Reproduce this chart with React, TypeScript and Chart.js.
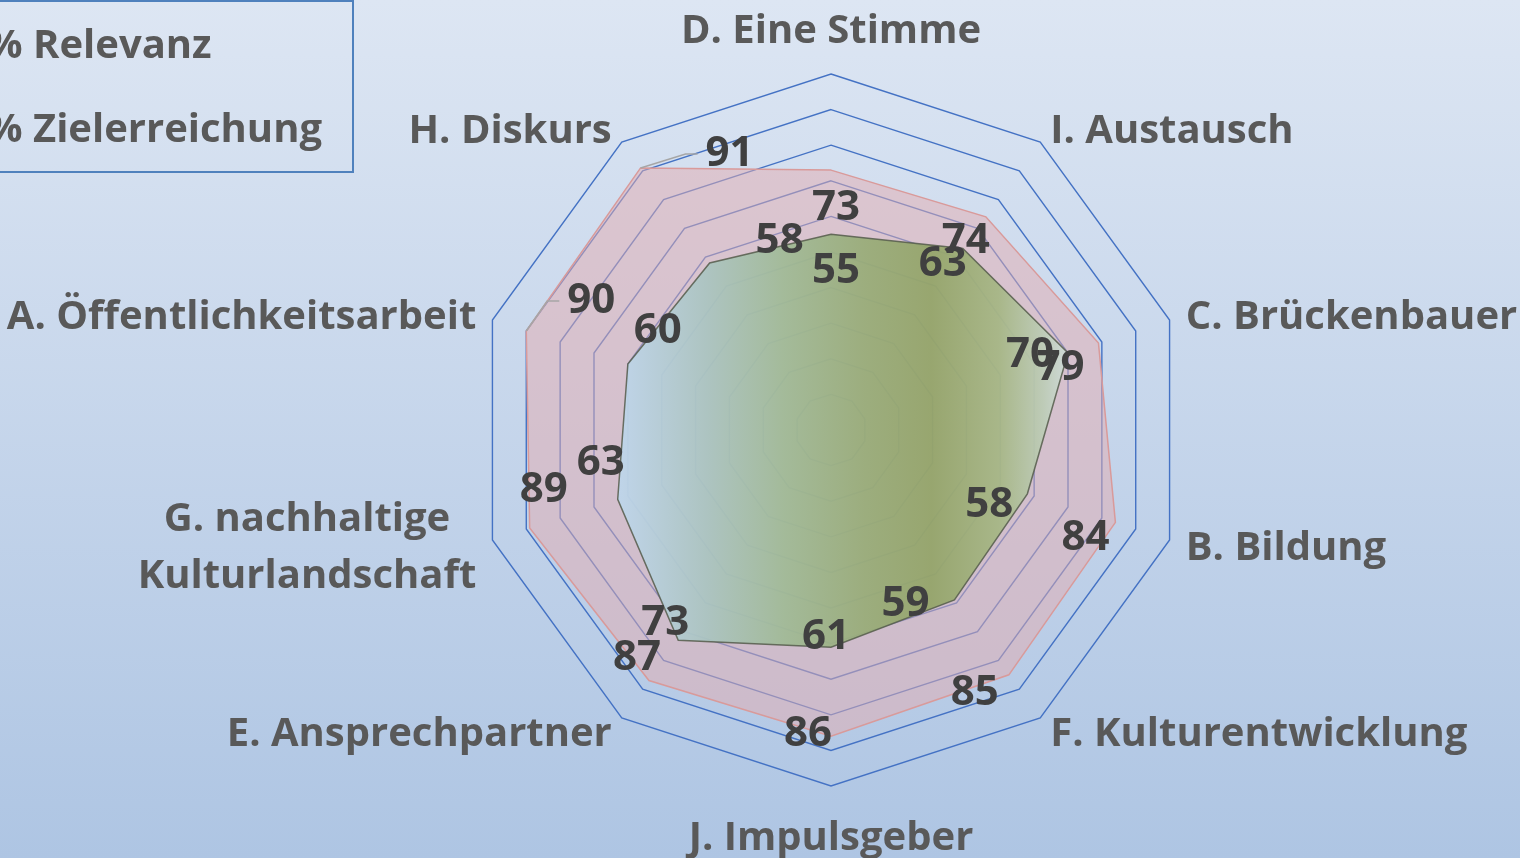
import React, { useEffect, useRef } from "react";
import { Chart, registerables } from "chart.js";

Chart.register(...registerables);

// ---------- data ----------
const categories: (string | string[])[] = [
  "D. Eine Stimme",
  "I. Austausch",
  "C. Brückenbauer",
  "B. Bildung",
  "F. Kulturentwicklung",
  "J. Impulsgeber",
  "E. Ansprechpartner",
  ["G. nachhaltige", "Kulturlandschaft"],
  "A. Öffentlichkeitsarbeit",
  "H. Diskurs",
];
const seriesNames = ["% Relevanz", "% Zielerreichung"];
const relevanz = [73, 74, 79, 84, 85, 86, 87, 89, 90, 91];
const zielerreichung = [55, 63, 70, 58, 59, 61, 73, 63, 60, 58];
const scaleMin = 0;
const scaleMax = 100;
const scaleStep = 10;

// ---------- label placement (style, not data) ----------
const relevanzNudge: [number, number][] = [
  [5, 35], [-20, 21], [-38, 22], [-30, 13], [-34, 15],
  [-23, -5], [-12, -26], [14, -41], [65, -33], [89, -17],
];
const zielNudge: [number, number][] = [
  [5, 34], [-20, 12], [-38, -1], [-38, 8], [-49, 1],
  [-5, -13], [-13, -20], [-17, -39], [30, -36], [70, -25],
];
const relevanzLeader = [false, false, false, false, false, false, false, false, true, true];

const FONT = "'Open Sans', Lato, sans-serif";
const AXIS_COLOR = "#595959";
const VALUE_COLOR = "#404040";

const backgroundPlugin = {
  id: "bg",
  beforeDraw(chart: any) {
    const { ctx, width, height } = chart;
    const g = ctx.createLinearGradient(0, 0, 0, height);
    g.addColorStop(0, "#dde6f3");
    g.addColorStop(1, "#aec5e3");
    ctx.save();
    ctx.fillStyle = g;
    ctx.fillRect(0, 0, width, height);
    ctx.restore();
  },
};

const labelsPlugin = {
  id: "customLabels",
  afterDraw(chart: any) {
    const { ctx } = chart;
    const scale = chart.scales.r;
    ctx.save();

    // point (category) labels
    ctx.font = `bold 40px ${FONT}`;
    ctx.fillStyle = AXIS_COLOR;
    categories.forEach((label, i) => {
      const isVertical = i === 0 || i === 5;
      const pad = isVertical ? (i === 0 ? 45 : 50) : 17;
      const p = scale.getPointPosition(i, scale.drawingArea + pad);
      const lines = Array.isArray(label) ? label : [label];
      const lh = 57;
      const widths = lines.map((l) => ctx.measureText(l).width);
      const maxW = Math.max(...widths);
      const dx = p.x - scale.xCenter;
      let cx: number;
      if (Math.abs(dx) < 2) cx = p.x;
      else if (dx > 0) cx = p.x + maxW / 2;
      else cx = p.x - maxW / 2;
      ctx.textAlign = "center";
      ctx.textBaseline = "middle";
      lines.forEach((l, k) => {
        const y = p.y + 3 + (k - (lines.length - 1) / 2) * lh;
        ctx.fillText(l, cx, y);
      });
    });

    // value labels
    ctx.font = `bold 42px ${FONT}`;
    ctx.fillStyle = VALUE_COLOR;
    ctx.textAlign = "center";
    ctx.textBaseline = "middle";
    const drawSeries = (vals: number[], nudge: [number, number][], leader?: boolean[]) => {
      vals.forEach((v, i) => {
        const p = scale.getPointPosition(i, scale.getDistanceFromCenterForValue(v));
        const lx = p.x + nudge[i][0];
        const ly = p.y + nudge[i][1];
        if (leader && leader[i]) {
          const w = ctx.measureText(String(v)).width;
          ctx.save();
          ctx.strokeStyle = "#a6a6a6";
          ctx.lineWidth = 1.5;
          ctx.beginPath();
          ctx.moveTo(p.x, p.y);
          ctx.lineTo(lx - w / 2 - 20, ly + 3);
          ctx.lineTo(lx - w / 2 - 8, ly + 3);
          ctx.stroke();
          ctx.restore();
        }
        ctx.fillText(String(v), lx, ly + 3);
      });
    };
    drawSeries(relevanz, relevanzNudge, relevanzLeader);
    drawSeries(zielerreichung, zielNudge);

    // legend (partly cut off at the left edge)
    ctx.strokeStyle = "#4f81bd";
    ctx.lineWidth = 2;
    ctx.strokeRect(-2, 1, 355, 171);
    ctx.font = `bold 40px ${FONT}`;
    ctx.fillStyle = AXIS_COLOR;
    ctx.textAlign = "left";
    ctx.textBaseline = "alphabetic";
    const legendY = [58, 142];
    seriesNames.forEach((name, k) => {
      const pre = ctx.measureText("% ").width;
      ctx.fillText(name, 33 - pre, legendY[k]);
    });

    ctx.restore();
  },
};

export default function App() {
  const ref = useRef<HTMLCanvasElement | null>(null);

  useEffect(() => {
    document.body.style.margin = "0";
    const canvas = ref.current!;
    const chart = new Chart(canvas, {
      type: "radar",
      data: {
        labels: categories as any,
        datasets: [
          {
            label: seriesNames[0],
            data: relevanz,
            order: 1,
            backgroundColor: "rgba(228,172,176,0.5)",
            borderColor: "#d99a9a",
            borderWidth: 1.5,
            pointRadius: 0,
            fill: true,
          },
          {
            label: seriesNames[1],
            data: zielerreichung,
            order: 0,
            backgroundColor: (c: any) => {
              const chart = c.chart;
              const s = chart.scales && chart.scales.r;
              if (!s || !chart.chartArea) return "rgba(160,180,130,0.9)";
              const x0 = s.xCenter - s.drawingArea * 0.6;
              const x1 = s.xCenter + s.drawingArea * 0.66;
              const g = chart.ctx.createLinearGradient(x0, 0, x1, 0);
              g.addColorStop(0, "rgba(190,214,236,0.93)");
              g.addColorStop(0.2, "rgba(170,196,192,0.93)");
              g.addColorStop(0.37, "rgba(160,186,150,0.93)");
              g.addColorStop(0.55, "rgba(152,172,120,0.93)");
              g.addColorStop(0.7, "rgba(147,164,104,0.93)");
              g.addColorStop(0.85, "rgba(165,182,132,0.93)");
              g.addColorStop(0.95, "rgba(188,204,182,0.93)");
              g.addColorStop(1, "rgba(205,218,214,0.93)");
              return g;
            },
            borderColor: "rgba(85,92,75,0.85)",
            borderWidth: 1.5,
            pointRadius: 0,
            fill: true,
          },
        ],
      },
      options: {
        responsive: false,
        animation: false,
        layout: { padding: { top: 74, bottom: 72, left: 475, right: 333 } },
        plugins: { legend: { display: false }, tooltip: { enabled: false } },
        elements: { line: { tension: 0 } },
        scales: {
          r: {
            min: scaleMin,
            max: scaleMax,
            ticks: { display: false, stepSize: scaleStep },
            pointLabels: { display: false },
            angleLines: { display: false },
            grid: { color: "#4472c4", lineWidth: 1.4 },
          },
        },
      },
      plugins: [backgroundPlugin, labelsPlugin],
    });
    return () => chart.destroy();
  }, []);

  return (
    <div style={{ position: "fixed", left: 0, top: 0, width: 1520, height: 858 }}>
      <canvas ref={ref} width={1520} height={858} style={{ display: "block" }} />
    </div>
  );
}
